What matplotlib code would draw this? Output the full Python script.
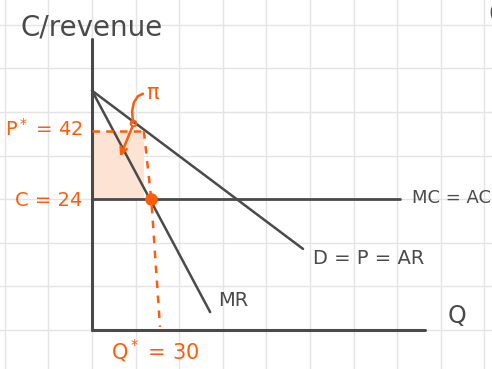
import matplotlib
matplotlib.use("Agg")
import matplotlib.pyplot as plt
from matplotlib.patches import Rectangle

# all positions in "grid squares" of the paper, origin at the axes corner
grid_x = list(range(-2, 10))
grid_y = list(range(0, 8))

yaxis_top = 6.67
xaxis_end = 7.64

mc_level = 3.0
mc_end = 7.06

demand_q = [0.0, 4.84]
demand_p = [5.49, 1.86]
mr_q = [0.0, 2.71]
mr_p = [5.49, 0.41]

p_star = 4.56
p_star_q = 1.19
q_drop_x = [1.19, 1.36, 1.56]
q_drop_y = [4.56, 3.0, 0.07]
opt_point = (1.36, 3.0)

pi_curve_x = [0.94, 0.92, 0.96, 1.05, 1.17]
pi_curve_y = [4.75, 5.02, 5.22, 5.36, 5.42]
pi_arrow_from = (0.95, 4.72)
pi_arrow_to = (0.62, 3.92)

dark = "#4a4a4a"
orange = "#ff5c0a"
peach = "#fde3d4"

fig = plt.figure(figsize=(4.92, 3.69), dpi=100)
ax = fig.add_axes([0, 0, 1, 1])
ax.set_xticks(grid_x)
ax.set_yticks(grid_y)
ax.set_xlim(-92 / 43.6, 400 / 43.6)
ax.set_ylim(-39 / 43.6, 330 / 43.6)
ax.grid(color="#e4e4e4", lw=1.0)
ax.tick_params(length=0, labelbottom=False, labelleft=False)
for s in ax.spines.values():
    s.set_visible(False)
ax.set_axisbelow(True)

# profit area
ax.add_patch(Rectangle((0, mc_level), p_star_q, p_star - mc_level,
                       facecolor=peach, edgecolor="none", zorder=1))

# axes of the sketch
ax.plot([0, 0], [0, yaxis_top], color=dark, lw=2.2, solid_capstyle="round", zorder=3)
ax.plot([0, xaxis_end], [0, 0], color=dark, lw=2.2, solid_capstyle="round", zorder=3)

# curves
ax.plot([0, mc_end], [mc_level, mc_level], color=dark, lw=2.0, solid_capstyle="round", zorder=3)
ax.plot(demand_q, demand_p, color=dark, lw=1.8, solid_capstyle="round", zorder=3)
ax.plot(mr_q, mr_p, color=dark, lw=1.8, solid_capstyle="round", zorder=3)

# P* and Q* guides
ax.plot([0, p_star_q], [p_star, p_star], color=orange, lw=1.8, ls=(0, (3, 2.5)), zorder=4)
ax.plot(q_drop_x, q_drop_y, color=orange, lw=1.8, ls=(0, (3, 3)), zorder=4)
ax.plot(*opt_point, "o", color=orange, ms=8, zorder=5)

# profit annotation
ax.plot(pi_curve_x, pi_curve_y, color=orange, lw=1.8, solid_capstyle="round", zorder=5)
ax.plot(pi_curve_x[0], pi_curve_y[0], "o", mfc="none", mec=orange, ms=4, mew=1.5, zorder=5)
ax.annotate("", xy=pi_arrow_to, xytext=pi_arrow_from,
            arrowprops=dict(arrowstyle="->", color=orange, lw=1.8,
                            mutation_scale=12), zorder=5)
ax.text(1.38, 5.44, "π", color=orange, fontsize=15, ha="center", va="center")

# labels
ax.text(0.0, 6.93, "C/revenue", color=dark, fontsize=20, ha="center", va="center")
ax.text(-1.10, 4.61, "P$^*$ = 42", color=orange, fontsize=14, ha="center", va="center")
ax.text(-0.99, 2.98, "C = 24", color=orange, fontsize=14, ha="center", va="center")
ax.text(1.44, -0.50, "Q$^*$ = 30", color=orange, fontsize=15, ha="center", va="center")
ax.text(7.34, 3.03, "MC = AC", color=dark, fontsize=13, ha="left", va="center")
ax.text(5.07, 1.65, "D = P = AR", color=dark, fontsize=14, ha="left", va="center")
ax.text(2.89, 0.67, "MR", color=dark, fontsize=14, ha="left", va="center")
ax.text(8.37, 0.32, "Q", color=dark, fontsize=17, ha="center", va="center")
ax.text(9.08, 7.25, "6", color=dark, fontsize=17, ha="left", va="center")

fig.savefig("out.png", dpi=100)
